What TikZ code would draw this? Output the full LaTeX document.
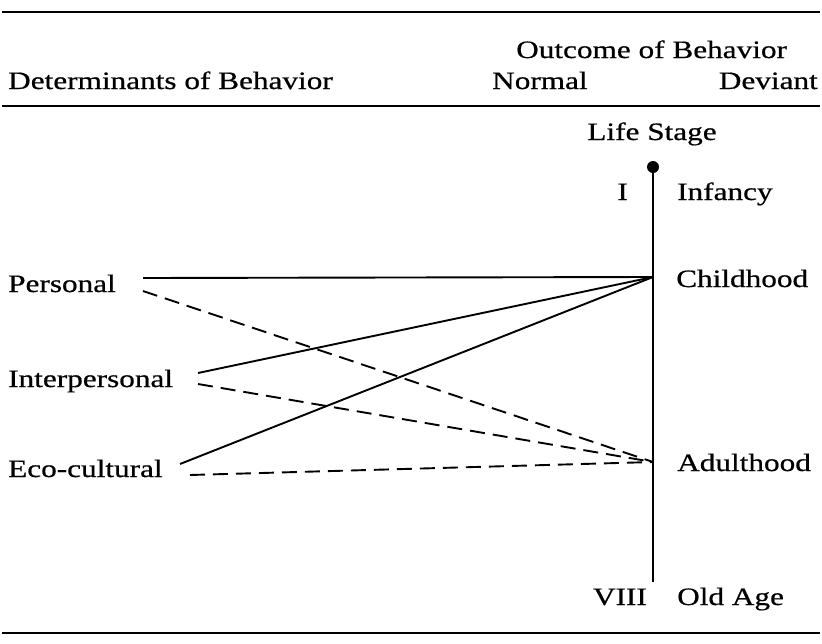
\documentclass[tikz,border=0pt]{standalone}
\usepackage{fontspec}
\setmainfont[FakeStretch=1.25,FakeBold=0.6]{Liberation Serif}
\begin{document}
\begin{tikzpicture}[x=1pt,y=-1pt,
  lbl/.style={inner sep=0pt,font=\fontsize{25}{29}\selectfont},
  conn/.style={line width=1.9pt},
  dconn/.style={line width=1.9pt,dash pattern=on 15pt off 8pt},
  rulel/.style={line width=2pt}]
\useasboundingbox (0,0) rectangle (822,643);
\draw[rulel] (2,12) -- (820,12);
\draw[rulel] (2,106) -- (820,106);
\draw[rulel] (2,633) -- (820,633);
\node[lbl,anchor=base west] (out) at (516,58) {Outcome of Behavior};
\node[lbl,anchor=base west] (det) at (8,89) {Determinants of Behavior};
\node[lbl,anchor=base west] (norm) at (492,89) {Normal};
\node[lbl,anchor=base east] (dev) at (818,89) {Deviant};
\node[lbl,anchor=base] (ls) at (652,140) {Life Stage};
\coordinate (top) at (653,167);
\coordinate (bot) at (653,582);
\coordinate (ch) at (653,277);
\coordinate (ad) at (653,462);
\fill (top) circle (6);
\draw[line width=1.9pt] (top) -- (bot);
\node[lbl,anchor=base east] (i) at (628,200) {I};
\node[lbl,anchor=base west] (inf) at (677,200) {Infancy};
\node[lbl,anchor=base west] (chl) at (676,287) {Childhood};
\node[lbl,anchor=base west] (adl) at (677,471) {Adulthood};
\node[lbl,anchor=base east] (viii) at (647,605) {VIII};
\node[lbl,anchor=base west] (old) at (677,605) {Old Age};
\node[lbl,anchor=base west] (per) at (8,292) {Personal};
\node[lbl,anchor=base west] (inter) at (8,387) {Interpersonal};
\node[lbl,anchor=base west] (eco) at (8,477) {Eco-cultural};
\coordinate (p1) at (143,278);
\coordinate (p2) at (143,291);
\coordinate (i1) at (198,373);
\coordinate (i2) at (198,384);
\coordinate (e1) at (180,464);
\coordinate (e2) at (190,475);
\draw[conn] (p1) -- (ch);
\draw[conn] (i1) -- (ch);
\draw[conn] (e1) -- (ch);
\draw[dconn] (p2) -- (ad);
\draw[dconn] (i2) -- (ad);
\draw[dconn] (e2) -- (ad);
\end{tikzpicture}
\end{document}
